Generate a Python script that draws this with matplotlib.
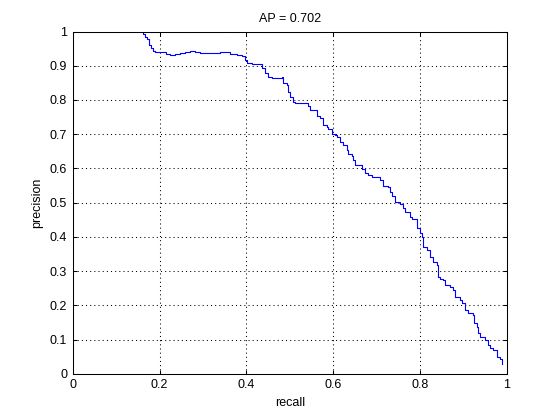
import matplotlib
matplotlib.use("Agg")
import matplotlib.pyplot as plt

# Precision-recall curve
recall = [0.161, 0.161, 0.166, 0.166, 0.171, 0.171, 0.175, 0.175, 0.180, 0.180,
          0.184, 0.184, 0.189, 0.189, 0.194, 0.212, 0.214, 0.224, 0.235, 0.247,
          0.258, 0.270, 0.281, 0.293, 0.316, 0.339, 0.357, 0.362, 0.378, 0.389,
          0.396, 0.401, 0.412, 0.424, 0.436, 0.442, 0.449, 0.459, 0.482, 0.484,
          0.493, 0.495, 0.500, 0.507, 0.512, 0.535, 0.542, 0.546, 0.558, 0.562,
          0.569, 0.576, 0.585, 0.588, 0.597, 0.604, 0.608, 0.615, 0.622, 0.631,
          0.634, 0.643, 0.645, 0.650, 0.661, 0.666, 0.673, 0.680, 0.689, 0.700,
          0.707, 0.714, 0.726, 0.730, 0.735, 0.742, 0.753, 0.760, 0.765, 0.777,
          0.781, 0.788, 0.793, 0.800, 0.804, 0.806, 0.816, 0.823, 0.829, 0.839,
          0.841, 0.846, 0.853, 0.857, 0.869, 0.876, 0.880, 0.892, 0.896, 0.903,
          0.910, 0.922, 0.924, 0.931, 0.933, 0.938, 0.949, 0.956, 0.961, 0.968,
          0.977, 0.984, 0.988]
precision = [1.000, 0.994, 0.994, 0.985, 0.985, 0.977, 0.977, 0.962, 0.962, 0.953,
             0.953, 0.944, 0.944, 0.939, 0.939, 0.939, 0.933, 0.930, 0.933, 0.936,
             0.939, 0.942, 0.939, 0.936, 0.936, 0.939, 0.939, 0.933, 0.930, 0.927,
             0.918, 0.909, 0.906, 0.904, 0.892, 0.880, 0.868, 0.863, 0.866, 0.851,
             0.845, 0.822, 0.810, 0.795, 0.790, 0.790, 0.781, 0.772, 0.772, 0.752,
             0.746, 0.728, 0.722, 0.716, 0.702, 0.699, 0.693, 0.678, 0.667, 0.655,
             0.643, 0.637, 0.626, 0.611, 0.611, 0.597, 0.588, 0.582, 0.576, 0.576,
             0.567, 0.550, 0.547, 0.532, 0.518, 0.503, 0.497, 0.485, 0.474, 0.459,
             0.453, 0.453, 0.427, 0.412, 0.401, 0.371, 0.363, 0.342, 0.328, 0.319,
             0.284, 0.278, 0.275, 0.260, 0.254, 0.246, 0.225, 0.216, 0.208, 0.187,
             0.178, 0.173, 0.149, 0.137, 0.120, 0.108, 0.099, 0.085, 0.076, 0.070,
             0.050, 0.044, 0.029]

title_text = "AP = 0.702"
x_label = "recall"
y_label = "precision"
x_ticks = [0, 0.2, 0.4, 0.6, 0.8, 1]
y_ticks = [0, 0.1, 0.2, 0.3, 0.4, 0.5, 0.6, 0.7, 0.8, 0.9, 1]

plt.rcParams['font.family'] = ['Liberation Sans', 'DejaVu Sans']
plt.rcParams['font.size'] = 9

fig = plt.figure(figsize=(5.6, 4.2), dpi=100)
ax = fig.add_axes([0.13, 0.11, 0.775, 0.815])

ax.plot(recall, precision, color=(0, 0, 1), lw=0.8, drawstyle='steps-post')

ax.set_xlim(0, 1)
ax.set_ylim(0, 1)
ax.set_xticks(x_ticks)
ax.set_xticklabels([f"{t:g}" for t in x_ticks])
ax.set_yticks(y_ticks)
ax.set_yticklabels([f"{t:g}" for t in y_ticks])
ax.tick_params(direction='in', length=3, width=0.75, top=True, right=True,
               pad=4, colors='black', labelsize=9)
ax.grid(True, color='black', linestyle=(0, (1, 3)), linewidth=0.75)
for s in ax.spines.values():
    s.set_linewidth(0.75)
    s.set_color('black')

ax.set_title(title_text, fontsize=9, pad=7)
ax.set_xlabel(x_label, fontsize=9, labelpad=4)
ax.set_ylabel(y_label, fontsize=9, labelpad=5)

fig.savefig("out.png", dpi=100, facecolor='white')
